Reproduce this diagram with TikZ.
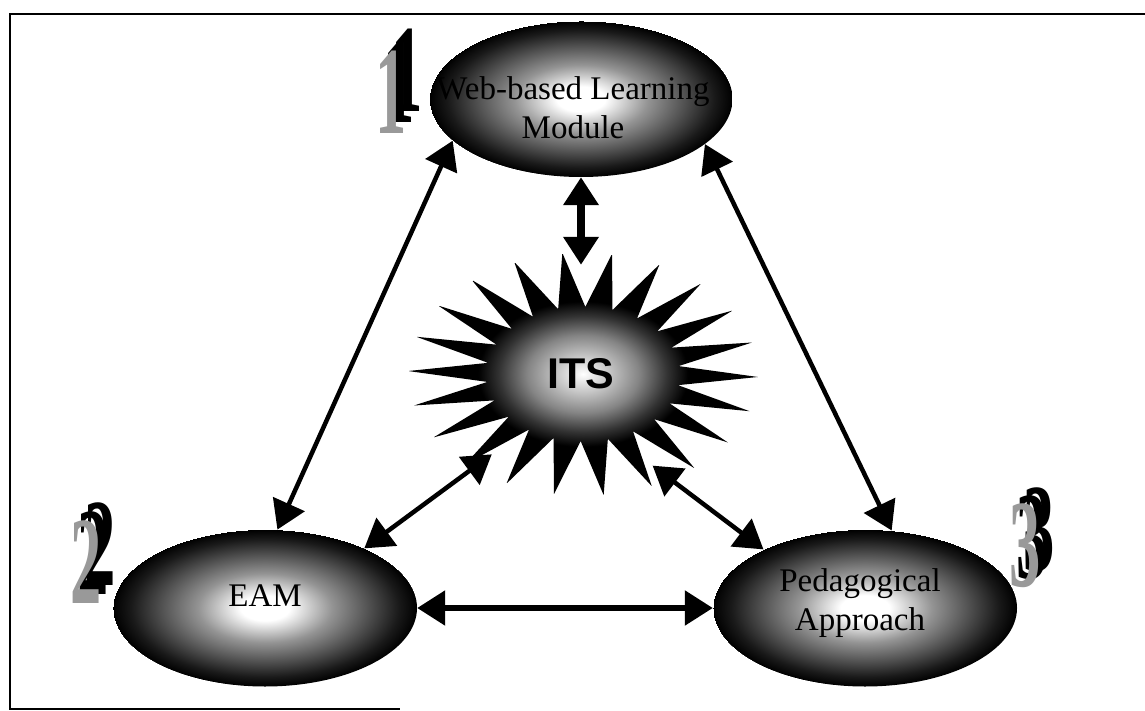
\documentclass[tikz,border=0pt]{standalone}
\usepackage{fontspec}
\setmainfont{Liberation Serif}
\newfontfamily\itsfont{Liberation Sans}
\usetikzlibrary{shapes.geometric,arrows.meta,calc}

% glossy orb: light core, dark rim (25bp reaches the border)
\pgfdeclareradialshading{orbshade}{\pgfpoint{0bp}{0bp}}{%
  color(0bp)=(white); color(4bp)=(white); color(11bp)=(black!42);
  color(17bp)=(black!68); color(22bp)=(black!90); color(25bp)=(black)}
% starburst: glowing body, black spikes
\pgfdeclareradialshading{burstshade}{\pgfpoint{0bp}{0bp}}{%
  color(0bp)=(white); color(3bp)=(black!18); color(8bp)=(black!48);
  color(12bp)=(black!80); color(15bp)=(black); color(25bp)=(black)}

\newcommand\numglyph[1]{\scalebox{0.5}[1]{#1}}
% extruded numeral: name, x, y, extrusion dx, extrusion dy, digit
\newcommand\wordart[6]{%
  \node[numback] (#1-far) at ({#2+#4},{#3+#5}) {\numglyph{#6}};
  \node[numback] (#1-mid) at ({#2+#4/2},{#3+#5/2}) {\numglyph{#6}};
  \node[numface] (#1) at (#2,#3) {\numglyph{#6}};
}

\tikzset{
  orb/.style={ellipse, shade, shading=orbshade, inner sep=0pt,
    minimum width=304pt, minimum height=157pt,
    font=\fontsize{33}{39}\selectfont},
  hub/.style={ellipse, inner sep=0pt, minimum width=263pt, minimum height=218pt,
    font=\itsfont\bfseries\fontsize{43}{48}\selectfont},
  link/.style={line width=4.5pt,
    {Triangle[length=28pt,width=34pt]}-{Triangle[length=28pt,width=34pt]}},
  numback/.style={text=black, inner sep=0pt,
    font=\bfseries\fontsize{125}{125}\selectfont},
  numface/.style={text=black!40, inner sep=0pt,
    font=\bfseries\fontsize{125}{125}\selectfont},
  frame/.style={line width=2.2pt}
}

\begin{document}
\begin{tikzpicture}[x=1pt,y=-1pt]
\useasboundingbox (0,0) rectangle (1145,711);

% page frame
\draw[frame] (1145,14) -- (10,14) -- (10,709) -- (400,709);

% starburst behind the ITS hub
\shade[shading=burstshade]
  ({583+175*cos(-1.4)},{374-122*sin(-1.4)})
  \foreach \k in {0,...,21}{
    -- ({583+0.55*175*cos(-1.4+\k*16.3636+8.1818)},{374-0.55*122*sin(-1.4+\k*16.3636+8.1818)})
    -- ({583+175*cos(-1.4+(\k+1)*16.3636)},{374-122*sin(-1.4+(\k+1)*16.3636)})
  } -- cycle;

\node[hub] (its) at (581,374) {ITS};

% the three components
\node[orb, minimum width=303pt, minimum height=156pt, text height=36pt, text depth=0pt]
  (web) at (581,99)
  {\makebox[0pt]{\hspace*{-16pt}\begin{tabular}{@{}c@{}}Web-based Learning\\Module\end{tabular}}};
\node[orb, text height=0pt, text depth=4pt] (eam) at (265,608) {EAM};
\node[orb, text height=2.5pt, text depth=0pt] (ped) at (865,608)
  {\makebox[0pt]{\hspace*{-10pt}\begin{tabular}{@{}c@{}}Pedagogical\\Approach\end{tabular}}};

% links
\draw[link] (web.198.8) -- (eam.81);
\draw[link] (web.340.9) -- (ped.71.8);
\draw[link, line width=7.5pt] (web.south) -- (its.north);
\draw[link] (its.222.6) -- (eam.31.9);
\draw[link] (its.-52.3) -- (ped.150.75);
\draw[link, line width=5.5pt] (eam.east) -- (ped.west);

% numbered badges
\wordart{num1}{391}{92}{16}{-22}{1}
\wordart{num2}{86}{562}{14}{-18}{2}
\wordart{num3}{1025}{546}{14}{-16}{3}
\end{tikzpicture}
\end{document}
